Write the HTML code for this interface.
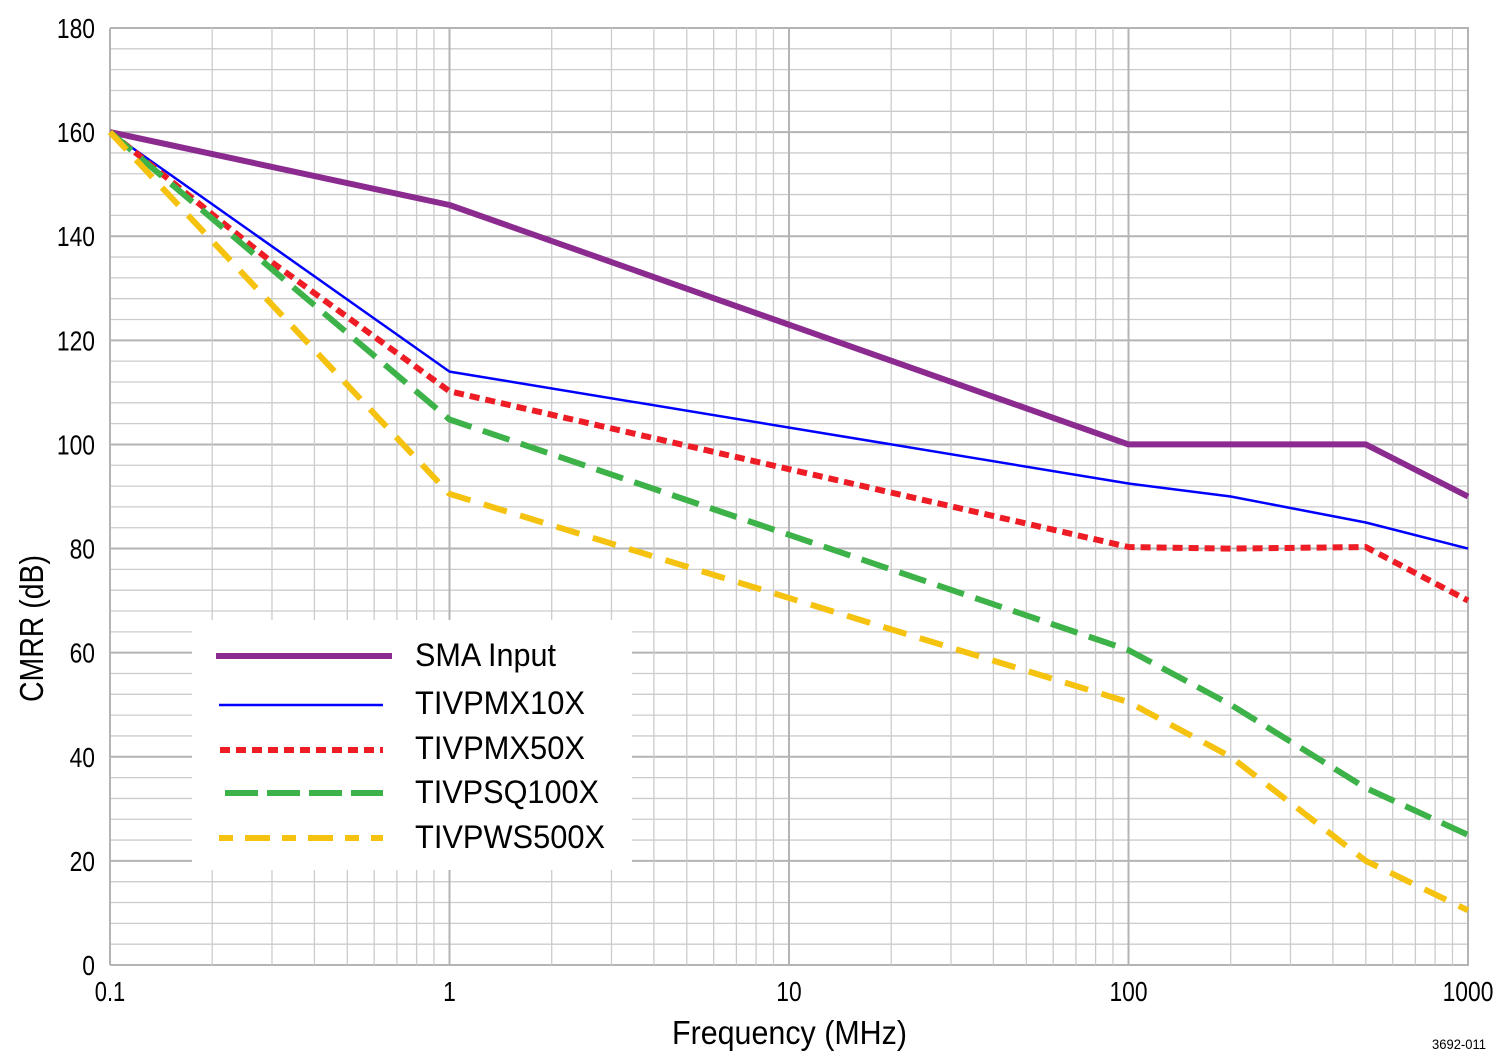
<!DOCTYPE html>
<html><head><meta charset="utf-8"><style>body{margin:0;background:#fff}svg{display:block}text{font-family:"Liberation Sans Narrow","Liberation Sans",sans-serif;fill:#000}</style></head>
<body>
<svg id="s" width="1501" height="1064" xmlns="http://www.w3.org/2000/svg">
<g id="grid"></g>
<g id="series" fill="none" stroke-linejoin="round"></g>
<rect x="192" y="620" width="440" height="250" fill="#fff"/>
<line x1="216" y1="656" x2="392" y2="656" stroke="#8b2b8f" stroke-width="6"/>
<line x1="219" y1="705" x2="383" y2="705" stroke="#0000ff" stroke-width="2.5"/>
<line x1="220" y1="750" x2="383" y2="750" stroke="#ee1c25" stroke-width="6" stroke-dasharray="10,6"/>
<line x1="225" y1="793" x2="383" y2="793" stroke="#3db249" stroke-width="6" stroke-dasharray="33,9"/>
<line x1="219" y1="838" x2="383" y2="838" stroke="#f5c20f" stroke-width="6" stroke-dasharray="14,12,25,12"/>
<text x="415" y="666" font-size="32" textLength="141" lengthAdjust="spacingAndGlyphs">SMA Input</text>
<text x="415" y="714" font-size="32" textLength="170" lengthAdjust="spacingAndGlyphs">TIVPMX10X</text>
<text x="415" y="759" font-size="32" textLength="170" lengthAdjust="spacingAndGlyphs">TIVPMX50X</text>
<text x="415" y="803" font-size="32" textLength="184" lengthAdjust="spacingAndGlyphs">TIVPSQ100X</text>
<text x="415" y="848" font-size="32" textLength="190" lengthAdjust="spacingAndGlyphs">TIVPWS500X</text>
<g id="labels"></g>
<text x="672" y="1044" font-size="33" textLength="235" lengthAdjust="spacingAndGlyphs">Frequency (MHz)</text>
<text transform="translate(43,702) rotate(-90)" font-size="33" textLength="147" lengthAdjust="spacingAndGlyphs">CMRR (dB)</text>
<text x="1432" y="1049" font-size="14" textLength="54" lengthAdjust="spacingAndGlyphs">3692-011</text>
</svg>
<script>
var X0=110,DEC=339.5,Y0=965,PY=(965-28)/180;
function fx(f){return X0+Math.log10(f/0.1)*DEC}
function fy(d){return Y0-d*PY}
var g='';
for(var d=0;d<=180;d+=4){var y=fy(d);var maj=d%20==0;g+='<line x1="110" x2="1469" y1="'+y+'" y2="'+y+'" stroke="'+(maj?'#b4b4b4':'#cccccc')+'" stroke-width="'+(maj?2:1.3)+'"/>';}
for(var e=0;e<4;e++)for(var m=1;m<=10;m++){var f=0.1*Math.pow(10,e)*m;var x=fx(f);var maj=(m==1||m==10);g+='<line y1="28" y2="965" x1="'+x+'" x2="'+x+'" stroke="'+(maj?'#b4b4b4':'#cccccc')+'" stroke-width="'+(maj?2:1.3)+'"/>';}
document.getElementById('grid').innerHTML=g;
var L='';
function w(s){var n=0;for(var i=0;i<s.length;i++)n+=(s[i]=='.'?5:12.7);return n}
for(var d=0;d<=180;d+=20){var s=''+d,ww=w(s);L+='<text x="'+(95-ww)+'" y="'+(fy(d)+10)+'" font-size="28" textLength="'+ww+'" lengthAdjust="spacingAndGlyphs">'+s+'</text>';}
var xl=['0.1','1','10','100','1000'];
for(var i=0;i<5;i++){var ww=w(xl[i]);L+='<text x="'+(X0+i*DEC-ww/2)+'" y="1001" font-size="28" textLength="'+ww+'" lengthAdjust="spacingAndGlyphs">'+xl[i]+'</text>';}
document.getElementById('labels').innerHTML=L;
var S=[
[[[0.1,160],[1,146],[100,100],[500,100],[1000,90]],'#8b2b8f',6,''],
[[[0.1,160],[1,114],[100,92.5],[200,90],[500,85],[1000,80]],'#0000ff',2.5,''],
[[[0.1,160],[0.3,135],[1,110.2],[100,80.3],[200,80],[500,80.3],[1000,70]],'#ee1c25',6,'10,6'],
[[[0.1,160],[1,104.8],[100,60.5],[200,50],[500,34],[1000,25]],'#3db249',6,'28,12'],
[[[0.1,160],[1,90.5],[100,50.5],[200,40],[500,20],[1000,10.5]],'#f5c20f',6,'24,14']];
var h='';
S.forEach(function(s){var p=s[0].map(function(q){return fx(q[0]).toFixed(1)+','+fy(q[1]).toFixed(1)}).join(' ');
h+='<polyline points="'+p+'" stroke="'+s[1]+'" stroke-width="'+s[2]+'"'+(s[3]?' stroke-dasharray="'+s[3]+'"':'')+'/>';});
document.getElementById('series').innerHTML=h;
</script>
</body></html>
